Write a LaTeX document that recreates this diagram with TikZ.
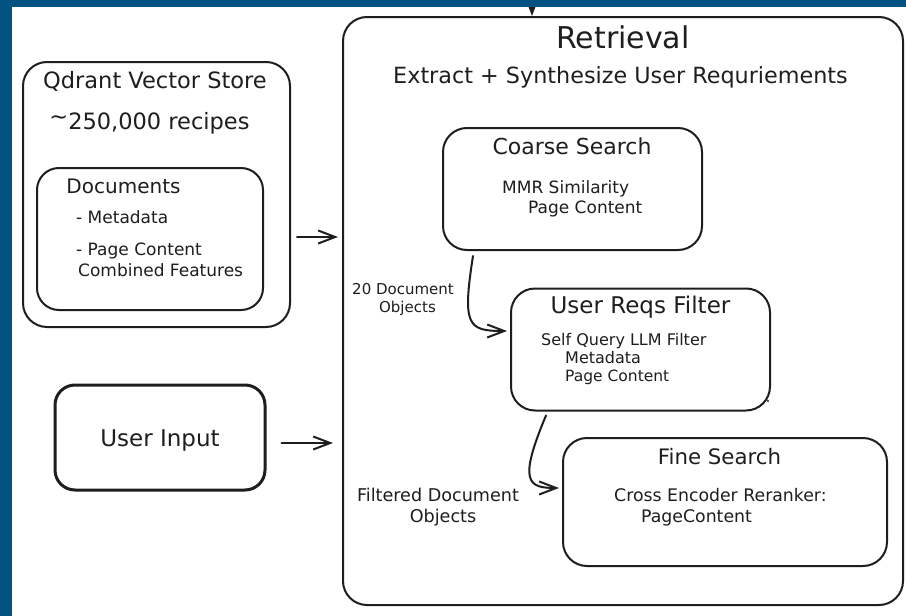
\documentclass[tikz,border=0pt]{standalone}
\usepackage{fontspec}
\setmainfont{DejaVu Sans}
\usetikzlibrary{arrows.meta}
\definecolor{ink}{HTML}{1E1E1E}
\definecolor{frameblue}{RGB}{0,82,128}
\newcommand\lbltext[2]{\fontsize{#1}{#1}\selectfont\rule{0pt}{0.73em}\smash{#2}}
\begin{document}
\begin{tikzpicture}[x=1pt,y=-1pt,
  box/.style={draw=ink, line width=2pt, rounded corners=24pt, inner sep=0pt},
  lbl/.style={inner sep=0pt, text=ink},
  arr/.style={draw=ink, line width=2pt, -{Straight Barb[length=17pt,width=13pt]}, line cap=round, line join=round},
]
\useasboundingbox (0,0) rectangle (906,616);
\fill[white] (0,0) rectangle (906,616);

% boxes
\node[box, minimum width=560pt, minimum height=588pt] (ret) at (623,311) {};
\node[box, minimum width=267pt, minimum height=265pt] (qd) at (156.5,194.5) {};
\node[box, minimum width=226pt, minimum height=142pt, rounded corners=22pt] (docs) at (150,239) {};
\node[box, line width=3pt, minimum width=210pt, minimum height=105pt, rounded corners=20pt] (ui) at (160,437.5) {};
\node[box, minimum width=259pt, minimum height=122pt] (coarse) at (572.5,189) {};
\node[box, minimum width=259pt, minimum height=122pt] (reqs) at (640.5,349.5) {};
\node[box, minimum width=324pt, minimum height=128pt] (fine) at (725,502) {};

% texts
\node[lbl] (tRet) at (623,38) {\lbltext{30}{Retrieval}};
\node[lbl] (tSub) at (620.5,75) {\lbltext{22.3}{Extract + Synthesize User Requriements}};
\node[lbl] (tQd) at (155,80) {\lbltext{22.5}{Qdrant Vector Store}};
\node[lbl] (tRec) at (149.5,121) {\lbltext{22.5}{\raisebox{5pt}{\textasciitilde}250,000 recipes}};
\node[lbl] (tDocs) at (123.5,186) {\lbltext{20}{Documents}};
\node[lbl, anchor=west] (tMeta) at (76,217) {\lbltext{17}{- Metadata}};
\node[lbl, anchor=west] (tPage) at (76,249) {\lbltext{17}{- Page Content}};
\node[lbl, anchor=west] (tComb) at (78,270) {\lbltext{17}{Combined Features}};
\node[lbl] (tUI) at (160,438) {\lbltext{23}{User Input}};
\node[lbl] (tCoarse) at (572,146) {\lbltext{22}{Coarse Search}};
\node[lbl, anchor=west] (tMMR) at (502,187) {\lbltext{17}{MMR Similarity}};
\node[lbl, anchor=west] (tPC1) at (528,207) {\lbltext{17}{Page Content}};
\node[lbl] (tReqs) at (640.5,305) {\lbltext{23}{User Reqs Filter}};
\node[lbl, anchor=west] (tSQ) at (541,340) {\lbltext{16}{Self Query LLM Filter}};
\node[lbl, anchor=west] (tMeta2) at (565,358) {\lbltext{16}{Metadata}};
\node[lbl, anchor=west] (tPC2) at (565,376) {\lbltext{15.5}{Page Content}};
\node[lbl] (t20) at (403,289) {\lbltext{15}{20 Document}};
\node[lbl] (tObj1) at (407.5,307) {\lbltext{15}{Objects}};
\node[lbl] (tFine) at (719.5,457) {\lbltext{21.3}{Fine Search}};
\node[lbl, anchor=west] (tCross) at (614,495) {\lbltext{17.3}{Cross Encoder Reranker:}};
\node[lbl, anchor=west] (tPC3) at (641,516) {\lbltext{17.3}{PageContent}};
\node[lbl] (tFilt) at (438,495) {\lbltext{17.6}{Filtered Document}};
\node[lbl] (tObj2) at (443,516) {\lbltext{17.6}{Objects}};

% connectors
\coordinate (topin) at (532,-30);
\draw[arr] (topin) -- (ret.north -| topin);
\draw[arr, shorten <=6pt, shorten >=4pt] (qd.east |- 0,237) -- (ret.west |- 0,237);
\draw[arr, shorten <=15pt, shorten >=9pt] (ui.east |- 0,443) -- (ret.west |- 0,443);
\draw[arr, shorten >=3pt] ([xshift=31pt,yshift=-5pt]coarse.south west) .. controls (462,326) and (468,331) .. (reqs.west |- 0,331);
\draw[arr, shorten >=3pt] ([xshift=36pt,yshift=-4pt]reqs.south west) .. controls (518,482) and (528,488) .. (fine.west |- 0,488);
\fill[ink] (768,401) circle (1.2pt);

% frame strips
\fill[frameblue] (0,0) rectangle (906,7);
\fill[frameblue] (0,0) rectangle (12,616);
\end{tikzpicture}
\end{document}
